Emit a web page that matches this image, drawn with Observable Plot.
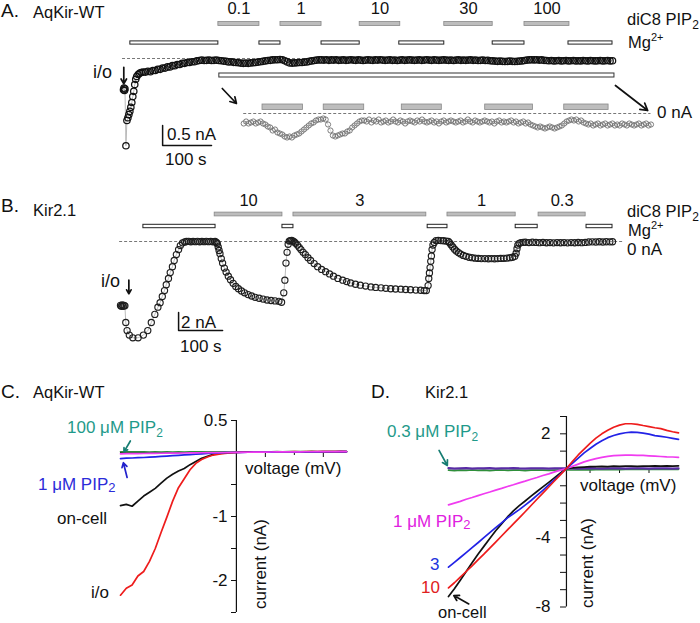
<!DOCTYPE html>
<html><head><meta charset="utf-8">
<script src="https://cdn.jsdelivr.net/npm/d3@7"></script>
<script src="https://cdn.jsdelivr.net/npm/@observablehq/plot@0.6"></script>
<style>
html,body{margin:0;padding:0;background:#fff;}
#fig{position:relative;width:700px;height:623px;overflow:hidden;background:#fff;}
#fig > svg{position:absolute;}
</style></head><body><div id="fig"></div>
<script>
// ---------------- Panel A : AqKir-WT, current (nA) vs time (s) ----------------
const aqPipConc  = ["0.1", "1", "10", "30", "100"];
const aqPipStart = [194, 321, 483, 656, 820];
const aqPipEnd   = [278, 405, 566, 755, 912];
const aqMgStart  = [14, 278, 405, 564, 755, 910];
const aqMgEnd    = [194, 321, 483, 656, 820, 1000];
const aqZoomSpan = [196, 1004];
const aqTime = [0,1,2,3,5,7,9,11,13,15,17,19,21,23,25,27,30,33,36,40,
45,50,55,60,65,70,75,80,85,90,95,100,105,110,115,120,125,130,135,140,145,150,
155,160,165,170,175,180,185,190,195,200,
205,210,215,220,225,230,235,240,245,250,255,260,265,270,275,280,285,290,295,300,
305,310,315,320,325,330,335,340,345,350,355,360,365,370,375,380,385,390,395,400,
405,410,415,420,425,430,435,440,445,450,455,460,465,470,475,480,485,490,495,500,
505,510,515,520,525,530,535,540,545,550,555,560,565,570,575,580,585,590,595,600,
605,610,615,620,625,630,635,640,645,650,655,660,665,670,675,680,685,690,695,700,
705,710,715,720,725,730,735,740,745,750,755,760,765,770,775,780,785,790,795,800,
805,810,815,820,825,830,835,840,845,850,855,860,865,870,875,880,885,890,895,900,
905,910,915,920,925,930,935,940,945,950,955,960,965,970,975,980,985,990,995,1000];
const aqCurrent = [-0.78,-0.74,-0.80,-0.76,-2.18,-1.55,-1.48,-1.40,-1.32,-1.22,-1.10,-0.95,-0.82,-0.65,-0.52,-0.45,-0.40,-0.37,-0.35,-0.34,
-0.34,-0.32,-0.33,-0.30,-0.30,-0.27,-0.27,-0.24,-0.24,-0.21,-0.21,-0.18,-0.18,-0.15,-0.15,-0.12,-0.12,-0.10,-0.10,-0.08,-0.08,-0.06,
-0.05,-0.04,-0.05,-0.045,-0.04,-0.05,-0.045,-0.04,-0.05,-0.055,
-0.065,-0.07,-0.085,-0.08,-0.095,-0.10,-0.105,-0.115,-0.12,-0.115,-0.12,-0.11,-0.105,-0.10,-0.09,-0.08,-0.07,-0.06,-0.05,-0.045,
-0.035,-0.03,-0.03,-0.025,-0.03,-0.055,-0.085,-0.11,-0.115,-0.11,-0.105,-0.10,-0.10,-0.09,-0.085,-0.07,-0.06,-0.05,-0.04,-0.035,
-0.035,-0.04,-0.03,-0.045,-0.035,-0.04,-0.03,-0.045,-0.04,-0.035,-0.045,-0.04,-0.03,-0.04,-0.045,-0.035,-0.04,-0.05,-0.04,-0.035,
-0.04,-0.045,-0.035,-0.04,-0.03,-0.04,-0.045,-0.04,-0.035,-0.045,-0.04,-0.05,-0.04,-0.035,-0.045,-0.04,-0.035,-0.04,-0.045,-0.04,
-0.035,-0.045,-0.04,-0.03,-0.04,-0.045,-0.035,-0.04,-0.045,-0.04,-0.035,-0.04,-0.045,-0.04,-0.05,-0.04,-0.035,-0.045,-0.04,-0.045,
-0.04,-0.035,-0.045,-0.04,-0.05,-0.045,-0.04,-0.05,-0.045,-0.055,-0.06,-0.065,-0.07,-0.065,-0.07,-0.075,-0.07,-0.065,-0.07,-0.075,
-0.07,-0.065,-0.06,-0.05,-0.04,-0.035,-0.03,-0.035,-0.03,-0.04,-0.035,-0.045,-0.05,-0.055,-0.05,-0.06,-0.055,-0.05,-0.06,-0.055,
-0.05,-0.06,-0.055,-0.05,-0.06,-0.055,-0.06,-0.05,-0.055,-0.06,-0.05,-0.055,-0.06,-0.055,-0.05,-0.06,-0.055,-0.05,-0.06,-0.055];
const aqInsetFrom = 155;          // s, start of the magnified copy
const aqScaleBar = {t: 80, i: -2.175, dt: 100, di: 0.5};

// ---------------- Panel B : Kir2.1, current (nA) vs time (s) ----------------
const kirPipConc  = ["10", "3", "1", "0.3"];
const kirPipStart = [214, 393, 743, 950];
const kirPipEnd   = [368, 695, 898, 1057];
const kirMgStart  = [52, 368, 698, 898, 1059];
const kirMgEnd    = [216, 393, 743, 948, 1118];
const kirTrace = [[0,-7.1],[2,-7.2],[4,-7.05],[6,-7.2],[8,-7.1],[10,-7.15],
[12,-9.0],[15,-9.9],[20,-10.4],[28,-10.7],[40,-10.7],[52,-10.4],[62,-9.9],[70,-9.0],[78,-8.1],[85,-7.3],
[90,-6.8],[95,-6.1],[100,-5.45],[104,-4.8],[109,-4.1],[113,-3.45],[118,-2.8],[122,-2.1],[127,-1.45],[132,-0.9],[136,-0.45],[141,-0.15],[146,-0.05],[150,0],
[155,0.02],[160,-0.03],[165,0.01],[170,-0.02],[175,0.02],[180,-0.03],[185,0.01],[190,-0.02],[195,0.02],[200,-0.02],[205,0.01],[210,-0.03],[215,0],
[218,-0.1],[220,-0.25],[222,-0.6],[224,-1.0],[226,-1.35],[229,-1.9],[232,-2.4],[236,-2.95],[240,-3.4],[245,-3.85],[250,-4.25],[256,-4.65],[262,-5.0],[268,-5.25],[275,-5.5],[282,-5.7],[290,-5.9],[298,-6.05],[306,-6.2],[315,-6.3],[324,-6.4],[333,-6.5],[342,-6.55],[351,-6.6],[360,-6.65],[366,-6.75],
[371,-5.7],[373.5,-4.3],[376,-2.4],[378.5,-1.2],[381,-0.3],[383.5,0.05],[386,0.1],[389,0.12],[392,0.05],
[395,-0.05],[398,-0.2],[402,-0.4],[406,-0.65],[410,-0.9],[415,-1.2],[420,-1.45],[426,-1.8],[432,-2.1],[440,-2.45],[448,-2.8],[457,-3.1],[466,-3.35],[475,-3.6],[484,-3.85],[494,-4.1],[505,-4.3],[514,-4.45],[523,-4.6],[534,-4.75],[545,-4.85],[557,-4.95],[569,-5.05],[580,-5.1],[592,-5.15],[603,-5.2],[614,-5.25],[625,-5.28],[637,-5.3],[648,-5.33],[659,-5.36],[671,-5.4],[682,-5.42],[690,-5.45],[695,-5.45],
[699,-4.9],[700.5,-4.1],[702,-3.5],[703.5,-2.9],[705,-2.2],[706.5,-1.6],[708,-0.9],[710,-0.4],[713,-0.1],[717,0.1],[722,0.12],[728,0.1],[734,0.08],[740,0.05],[745,0],
[748,-0.15],[751,-0.35],[755,-0.6],[759,-0.85],[763,-1.05],[768,-1.25],[773,-1.4],[779,-1.55],[785,-1.65],[792,-1.75],[799,-1.8],[806,-1.85],[813,-1.88],[820,-1.9],[828,-1.9],[836,-1.92],[843,-1.9],[850,-1.92],[857,-1.9],[864,-1.88],[871,-1.87],[878,-1.85],[885,-1.8],[891,-1.75],[896,-1.65],
[899,-1.3],[901,-0.8],[903,-0.4],[906,-0.2],[910,-0.12],[915,-0.1],
[920,-0.08],[928,-0.12],[936,-0.08],[944,-0.1],[952,-0.13],[960,-0.1],[968,-0.14],[976,-0.12],[984,-0.15],[992,-0.12],[1000,-0.14],[1008,-0.12],[1016,-0.15],[1024,-0.12],[1032,-0.14],[1040,-0.11],[1048,-0.13],[1056,-0.1],[1064,-0.06],[1072,-0.04],[1080,-0.05],[1088,-0.03],[1096,-0.05],[1104,-0.03],[1112,-0.04],[1118,-0.03]];
const kirScaleBar = {t: 132, i: -9.89, dt: 100, di: 2};

// ---------------- Panels C and D : current (nA) vs voltage (mV) ----------------
const ivVoltage = [-100,-95,-90,-85,-80,-75,-70,-65,-60,-55,-50,-45,-40,-35,-30,-25,-20,-15,-10,-5,0,5,10,15,20,25,30,35,40,45,50,55,60,65,70,75,80,85,90,95];
// C: AqKir-WT
const cIO      = [-2.23,-2.12,-2.07,-1.93,-1.86,-1.70,-1.50,-1.25,-1.01,-0.76,-0.55,-0.41,-0.27,-0.17,-0.11,-0.07,-0.04,-0.025,-0.015,-0.008,0,0.005,0.008,0.006,0.01,0.008,0.01,0.012,0.01,0.012,0.014,0.012,0.014,0.015,0.013,0.015,0.016,0.015,0.017,0.016];
const cOnCell  = [-0.83,-0.81,-0.84,-0.76,-0.68,-0.62,-0.56,-0.48,-0.40,-0.34,-0.29,-0.25,-0.19,-0.14,-0.09,-0.06,-0.03,-0.015,-0.008,-0.004,0,0.004,0.006,0.005,0.008,0.007,0.009,0.01,0.009,0.011,0.012,0.011,0.012,0.013,0.012,0.014,0.013,0.014,0.015,0.014];
const cPip1    = [-0.095,-0.088,-0.086,-0.081,-0.078,-0.072,-0.068,-0.062,-0.056,-0.05,-0.044,-0.038,-0.032,-0.026,-0.02,-0.015,-0.01,-0.006,-0.003,0,0,0.003,0.004,0.005,0.006,0.006,0.007,0.008,0.008,0.009,0.01,0.01,0.01,0.011,0.011,0.012,0.012,0.012,0.013,0.013];
const cPip100  = [0.012,0.01,0.011,0.009,0.01,0.008,0.009,0.008,0.009,0.008,0.009,0.008,0.009,0.009,0.01,0.009,0.01,0.01,0.01,0.011,0.011,0.011,0.012,0.011,0.012,0.012,0.012,0.013,0.012,0.013,0.013,0.013,0.014,0.013,0.014,0.014,0.014,0.015,0.014,0.015];
const cMg      = [-0.02,-0.019,-0.018,-0.017,-0.016,-0.015,-0.013,-0.012,-0.011,-0.01,-0.009,-0.008,-0.006,-0.005,-0.004,-0.003,-0.002,-0.001,0,0.001,0.002,0.003,0.004,0.005,0.006,0.007,0.008,0.009,0.009,0.01,0.011,0.011,0.012,0.012,0.013,0.013,0.014,0.014,0.015,0.015];
// D: Kir2.1
const dPip10   = [-6.9,-6.6,-6.28,-5.95,-5.62,-5.28,-4.95,-4.6,-4.25,-3.9,-3.55,-3.2,-2.85,-2.5,-2.14,-1.78,-1.42,-1.07,-0.71,-0.36,0,0.4,0.78,1.12,1.45,1.75,2.0,2.2,2.38,2.5,2.58,2.58,2.55,2.48,2.42,2.35,2.3,2.2,2.12,2.05];
const dPip3    = [-5.7,-5.42,-5.14,-4.86,-4.57,-4.29,-4.0,-3.7,-3.42,-3.14,-2.85,-2.62,-2.38,-2.12,-1.85,-1.56,-1.26,-0.95,-0.64,-0.32,0,0.3,0.6,0.9,1.15,1.4,1.6,1.78,1.9,2.0,2.06,2.1,2.08,2.04,1.98,1.9,1.85,1.8,1.74,1.68];
const dOnCell  = [-7.4,-6.95,-6.45,-5.95,-5.45,-4.95,-4.5,-4.05,-3.6,-3.2,-2.8,-2.45,-2.15,-1.88,-1.6,-1.33,-1.06,-0.8,-0.53,-0.26,0,0.03,0.06,0.08,0.1,0.11,0.12,0.11,0.13,0.12,0.13,0.14,0.12,0.14,0.13,0.15,0.14,0.15,0.14,0.15];
const dPip1    = [-2.1,-2.0,-1.9,-1.78,-1.68,-1.57,-1.46,-1.36,-1.25,-1.15,-1.04,-0.94,-0.83,-0.73,-0.62,-0.52,-0.41,-0.31,-0.2,-0.1,0,0.12,0.25,0.38,0.48,0.57,0.64,0.7,0.74,0.76,0.77,0.77,0.76,0.75,0.73,0.71,0.69,0.67,0.66,0.64];
const dPip03   = [-0.1,-0.12,-0.1,-0.11,-0.09,-0.11,-0.1,-0.12,-0.1,-0.09,-0.11,-0.1,-0.1,-0.12,-0.1,-0.09,-0.1,-0.11,-0.1,-0.09,-0.08,-0.09,-0.08,-0.07,-0.08,-0.07,-0.06,-0.07,-0.06,-0.07,-0.06,-0.05,-0.06,-0.05,-0.06,-0.05,-0.06,-0.05,-0.04,-0.05];
const dMg      = [0.02,-0.01,0.01,0.02,-0.01,0.01,0,0.02,-0.01,0.01,0,0.02,0,-0.01,0.01,0,0.01,-0.01,0,0.01,0,0.01,-0.01,0,0.02,0,-0.01,0.01,0,0.01,-0.01,0,0.01,0,-0.01,0.01,0,0.01,-0.01,0];

// ---------------- drawing ----------------
const FONT = "'Liberation Sans', Arial, Helvetica, sans-serif";
const fig = document.getElementById("fig");
const baseStyle = {background: "transparent", overflow: "visible", fontFamily: FONT, fontSize: "16px", color: "#111"};
function place(node, left, top) { node.style.position = "absolute"; node.style.left = left + "px"; node.style.top = top + "px"; fig.appendChild(node); }

const GRAYF = "#bdbdbd", GRAYS = "#888";
const noLabel = () => "";

// --- A protocol bars
const aqPip = aqPipConc.map((c, k) => ({conc: c, start: aqPipStart[k], end: aqPipEnd[k], row: "PIP2"}));
const aqMg = aqMgStart.map((s, k) => ({start: s, end: aqMgEnd[k], row: "Mg"}));
place(Plot.plot({
  width: 700, height: 60, margin: 0, style: baseStyle,
  x: {domain: [0, 1000], range: [123, 612], axis: null},
  y: {type: "band", domain: ["PIP2", "Mg"], range: [13.25, 52.25], padding: 0, axis: null},
  marks: [
    Plot.barX(aqPip, {x1: "start", x2: "end", y: "row", fill: GRAYF, stroke: GRAYS, strokeWidth: 0.8, insetTop: 7.5, insetBottom: 7.5}),
    Plot.barX(aqMg, {x1: "start", x2: "end", y: "row", fill: "white", stroke: "#222", strokeWidth: 1, insetTop: 7.9, insetBottom: 7.9}),
    Plot.text(aqPip, {x: d => (d.start + d.end) / 2, y: "row", text: "conc", dy: -15, fontSize: 16.5, fill: "#111"})
  ]
}), 0, 0);

// --- A magnified-span marker bar
place(Plot.plot({
  width: 700, height: 4, margin: 0, style: baseStyle,
  x: {domain: [0, 1000], range: [123, 612], axis: null},
  marks: [Plot.rect([aqZoomSpan], {x1: d => d[0], x2: d => d[1], fill: "white", stroke: "#333", strokeWidth: 1})]
}), 0, 73);

// --- A main trace
const aqData = aqTime.map((t, k) => ({t, i: aqCurrent[k]}));
const aqBar = [[aqScaleBar.t, aqScaleBar.i + aqScaleBar.di], [aqScaleBar.t, aqScaleBar.i], [aqScaleBar.t + aqScaleBar.dt, aqScaleBar.i]];
const aqArrows = [
  {x1: 0.6, y1: -0.22, x2: 0.6, y2: -0.63},
  {x1: 202, y1: -0.75, x2: 231, y2: -1.125},
  {x1: 1006, y1: -0.675, x2: 1072, y2: -1.3}
];
place(Plot.plot({
  width: 700, height: 170, margin: 0, style: baseStyle,
  x: {domain: [0, 1000], range: [123, 612], axis: null},
  y: {domain: [0, -2], range: [58, 138], axis: null},
  marks: [
    Plot.ruleY([0], {x1: -2, x2: 1000, stroke: "#555", strokeWidth: 0.8, strokeDasharray: "3,2"}),
    Plot.line(aqData, {x: "t", y: "i", stroke: "#aaa", strokeWidth: 0.8}),
    Plot.dot(aqData, {x: "t", y: "i", r: 3.2, stroke: "#111", strokeWidth: 1.25, fill: "none"}),
    Plot.line(aqBar, {x: d => d[0], y: d => d[1], stroke: "#111", strokeWidth: 1.5}),
    Plot.arrow(aqArrows, {x1: "x1", y1: "y1", x2: "x2", y2: "y2", stroke: "#111", strokeWidth: 1.7, headLength: 7})
  ]
}), 0, 0);

// --- A inset (same data, magnified current, t >= aqInsetFrom)
const aqInset = aqData.filter(d => d.t >= aqInsetFrom);
place(Plot.plot({
  width: 700, height: 170, margin: 0, style: baseStyle,
  x: {domain: [0, 1000], range: [168.5, 650.5], axis: null},
  y: {domain: [0, -0.25], range: [113, 163], axis: null},
  marks: [
    Plot.ruleY([0], {x1: aqInsetFrom, x2: 1000, stroke: "#555", strokeWidth: 0.8, strokeDasharray: "3,2"}),
    Plot.line(aqInset, {x: "t", y: "i", stroke: "#bbb", strokeWidth: 0.6}),
    Plot.dot(aqInset, {x: "t", y: "i", r: 2.6, stroke: "#6f6f6f", strokeWidth: 0.9, fill: "none"})
  ]
}), 0, 0);
place(Plot.plot({
  width: 700, height: 5.5, margin: 0, style: baseStyle,
  x: {domain: [0, 1000], range: [168.5, 650.5], axis: null},
  marks: [Plot.rect(aqPip, {x1: "start", x2: "end", fill: GRAYF, stroke: GRAYS, strokeWidth: 0.8})]
}), 0, 104);

// --- B protocol bars
const kirPip = kirPipConc.map((c, k) => ({conc: c, start: kirPipStart[k], end: kirPipEnd[k], row: "PIP2"}));
const kirMg = kirMgStart.map((s, k) => ({start: s, end: kirMgEnd[k], row: "Mg"}));
place(Plot.plot({
  width: 700, height: 50, margin: 0, style: baseStyle,
  x: {domain: [0, 1118], range: [120, 612], axis: null},
  y: {type: "band", domain: ["PIP2", "Mg"], range: [17.6, 42], padding: 0, axis: null},
  marks: [
    Plot.barX(kirPip, {x1: "start", x2: "end", y: "row", fill: GRAYF, stroke: GRAYS, strokeWidth: 0.8, insetTop: 4.1, insetBottom: 4.1}),
    Plot.barX(kirMg, {x1: "start", x2: "end", y: "row", fill: "white", stroke: "#222", strokeWidth: 1, insetTop: 4.3, insetBottom: 4.3}),
    Plot.text(kirPip, {x: d => (d.start + d.end) / 2, y: "row", text: "conc", dy: -14, fontSize: 16.5, fill: "#111"})
  ]
}), 0, 190);

// --- B trace
const kirData = kirTrace.map(([t, i]) => ({t, i}));
const kirBar = [[kirScaleBar.t, kirScaleBar.i + kirScaleBar.di], [kirScaleBar.t, kirScaleBar.i], [kirScaleBar.t + kirScaleBar.dt, kirScaleBar.i]];
place(Plot.plot({
  width: 700, height: 190, margin: 0, style: baseStyle,
  x: {domain: [0, 1118], range: [120, 612], axis: null},
  y: {domain: [0, -10], range: [71, 161], axis: null},
  marks: [
    Plot.ruleY([0], {x1: -2, x2: 1141, stroke: "#555", strokeWidth: 0.8, strokeDasharray: "3,2"}),
    Plot.line(kirData, {x: "t", y: "i", stroke: "#aaa", strokeWidth: 0.8}),
    Plot.dot(kirData, {x: "t", y: "i", r: 3.1, stroke: "#1e1e1e", strokeWidth: 1.15, fill: "none"}),
    Plot.line(kirBar, {x: d => d[0], y: d => d[1], stroke: "#111", strokeWidth: 1.5}),
    Plot.arrow([{x1: 19, y1: -4.3, x2: 19, y2: -5.8}], {x1: "x1", y1: "y1", x2: "x2", y2: "y2", stroke: "#111", strokeWidth: 1.7, headLength: 7})
  ]
}), 0, 170);

// --- IV helper
function ivRows(values) { return ivVoltage.map((v, k) => ({v, i: values[k]})); }
const RED = "#ee1c1c", BLUE = "#2222e6", MAG = "#f03cf0", GREEN = "#2f8f3a", PURPLE = "#5a2ba6", TEAL = "#1f9a8a", TEALD = "#167d72";

// --- C
const cSeries = [
  {vals: cPip100, color: GREEN},
  {vals: cOnCell, color: "#111"},
  {vals: cIO, color: RED},
  {vals: cPip1, color: BLUE},
  {vals: cMg, color: MAG}
];
place(Plot.plot({
  width: 350, height: 243, marginLeft: 236, marginRight: 0, marginTop: 0, marginBottom: 171, style: baseStyle,
  x: {domain: [-100, 95], range: [120, 346]},
  y: {domain: [0.5, -2.5], range: [40, 232]},
  marks: [
    Plot.ruleX([0], {y1: 0.5, y2: -2.5, stroke: "#111", strokeWidth: 1.2}),
    Plot.ruleY([0], {x1: -100, x2: 95, stroke: "#111", strokeWidth: 1}),
    Plot.axisY([0.5, -1, -2], {anchor: "left", tickSize: 5, tickPadding: 4, fontSize: 17, label: null, tickFormat: d => String(d)}),
    Plot.axisY([-0.5, -1.5, -2.5], {anchor: "left", tickSize: 5, label: null, tickFormat: noLabel}),
    Plot.axisX([25, 75], {anchor: "bottom", tickSize: 5, label: null, tickFormat: noLabel}),
    Plot.axisX([50], {anchor: "bottom", tickSize: 3, label: null, tickFormat: noLabel}),
    ...cSeries.map(s => Plot.line(ivRows(s.vals), {x: "v", y: "i", stroke: s.color, strokeWidth: 1.7})),
    Plot.arrow([{x1: -91.5, y1: 0.18, x2: -97, y2: 0.01}], {x1: "x1", y1: "y1", x2: "x2", y2: "y2", stroke: TEALD, strokeWidth: 1.7, headLength: 5}),
    Plot.arrow([{x1: -94.3, y1: -0.39, x2: -97.5, y2: -0.16}], {x1: "x1", y1: "y1", x2: "x2", y2: "y2", stroke: "#2222cc", strokeWidth: 1.7, headLength: 5})
  ]
}), 0, 380);

// --- D
const dSeries = [
  {vals: dPip03, color: GREEN, w: 1.7},
  {vals: dMg, color: PURPLE, w: 2.3},
  {vals: dOnCell, color: "#111", w: 1.7},
  {vals: dPip1, color: MAG, w: 1.7},
  {vals: dPip3, color: BLUE, w: 1.7},
  {vals: dPip10, color: RED, w: 1.7}
];
place(Plot.plot({
  width: 350, height: 243, marginLeft: 216, marginRight: 0, marginTop: 0, marginBottom: 155, style: baseStyle,
  x: {domain: [-100, 95], range: [98, 328]},
  y: {domain: [3, -8], range: [36, 226.5]},
  marks: [
    Plot.ruleX([0], {y1: 3, y2: -8, stroke: "#111", strokeWidth: 1.2}),
    Plot.ruleY([0], {x1: -100, x2: 95, stroke: "#111", strokeWidth: 1}),
    Plot.axisY([2, -4, -8], {anchor: "left", tickSize: 6, tickPadding: 10, fontSize: 17, label: null, tickFormat: d => String(d)}),
    Plot.axisY([3, 1, -1, -2, -3, -5, -6, -7], {anchor: "left", tickSize: 6, label: null, tickFormat: noLabel}),
    Plot.axisX([20, 45, 70], {anchor: "bottom", tickSize: 5, label: null, tickFormat: noLabel}),
    ...dSeries.map(s => Plot.line(ivRows(s.vals), {x: "v", y: "i", stroke: s.color, strokeWidth: s.w})),
    Plot.arrow([{x1: -108, y1: 1.04, x2: -101, y2: 0.17}], {x1: "x1", y1: "y1", x2: "x2", y2: "y2", stroke: TEALD, strokeWidth: 1.7, headLength: 5}),
    Plot.arrow([{x1: -82.8, y1: -7.82, x2: -95.5, y2: -7.34}], {x1: "x1", y1: "y1", x2: "x2", y2: "y2", stroke: "#111", strokeWidth: 1.7, headLength: 6})
  ]
}), 350, 380);

// --- text annotations
const ann = d3.create("svg").attr("width", 700).attr("height", 623)
  .style("position", "absolute").style("left", "0px").style("top", "0px")
  .style("font-family", FONT).style("overflow", "visible");
function label(x, y, parts, opt = {}) {
  const t = ann.append("text").attr("x", x).attr("y", y)
    .attr("font-size", opt.size || 16.5).attr("fill", opt.color || "#111")
    .attr("text-anchor", opt.anchor || "start");
  if (opt.rotate) t.attr("transform", `rotate(${opt.rotate},${x},${y})`);
  for (const p of [].concat(parts)) {
    if (typeof p === "string") t.append("tspan").text(p);
    else t.append("tspan").attr("dy", p.dy).attr("font-size", p.size).text(p.text);
  }
}
const sub2 = {text: "2", dy: 4, size: 12};
const sup2 = {text: "2+", dy: -7, size: 11};
// A
label(1, 17, "A.", {size: 19});
label(33, 18, "AqKir-WT", {size: 16.5});
label(627, 25, ["diC8 PIP", sub2], {size: 16.5});
label(628, 48, ["Mg", sup2], {size: 16.5});
label(657, 118, "0 nA", {size: 17});
label(93, 78, "i/o", {size: 18});
label(167, 140, "0.5 nA", {size: 17});
label(165, 165, "100 s", {size: 17});
// B
label(1, 212, "B.", {size: 19});
label(33, 216, "Kir2.1", {size: 16.5});
label(627, 217, ["diC8 PIP", sub2], {size: 16.5});
label(628, 236, ["Mg", sup2], {size: 16.5});
label(627, 255, "0 nA", {size: 17});
label(101, 287, "i/o", {size: 18});
label(181, 328, "2 nA", {size: 17});
label(180, 352, "100 s", {size: 17});
// C
label(1, 398, "C.", {size: 19});
label(33, 398, "AqKir-WT", {size: 16.5});
label(67, 433, ["100 \u03bcM PIP", sub2], {size: 17, color: TEAL});
label(38, 490, ["1 \u03bcM PIP", {text: "2", dy: 2, size: 13}], {size: 17, color: "#2b2bd9"});
label(57, 524, "on-cell", {size: 17});
label(91, 598, "i/o", {size: 17});
label(245, 474, "voltage (mV)", {size: 17});
label(266, 564, "current (nA)", {size: 17, rotate: -90, anchor: "middle"});
// D
label(371, 398, "D.", {size: 19});
label(425, 398, "Kir2.1", {size: 16.5});
label(387, 437, ["0.3 \u03bcM PIP", sub2], {size: 17, color: TEAL});
label(393, 527, ["1 \u03bcM PIP", {text: "2", dy: 2, size: 13}], {size: 17, color: "#e020e0"});
label(430, 570, "3", {size: 17, color: "#2233dd"});
label(421, 593, "10", {size: 17, color: "#e02020"});
label(438, 618, "on-cell", {size: 16.5});
label(580, 491, "voltage (mV)", {size: 17});
label(593, 563, "current (nA)", {size: 17, rotate: -90, anchor: "middle"});
fig.appendChild(ann.node());
</script></body></html>
